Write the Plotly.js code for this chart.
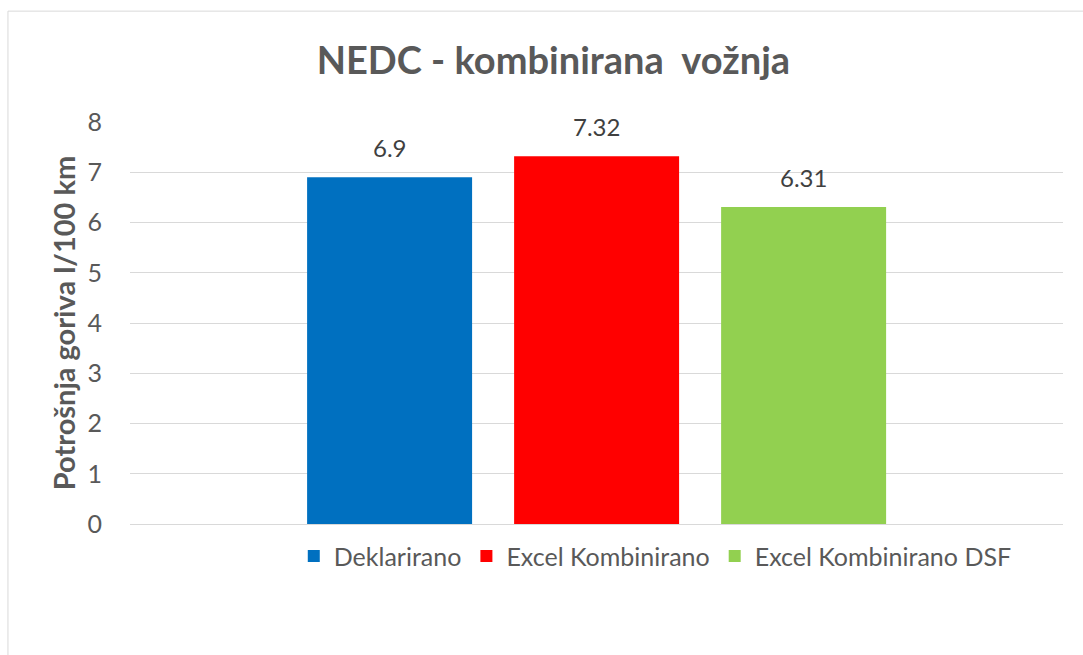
<!DOCTYPE html>
<html>
<head>
<meta charset="utf-8">
<script src="https://cdn.plot.ly/plotly-3.0.1.min.js"></script>
<style>html,body{margin:0;padding:0;background:#fff;}#chart{width:1083px;height:655px;}</style>
</head>
<body>
<div id="chart"></div>
<script>
const seriesNames = ["Deklarirano", "Excel Kombinirano", "Excel Kombinirano DSF"];
const seriesValues = [6.9, 7.32, 6.31];
const seriesColors = ["#0070C0", "#FF0000", "#92D050"];
const labelText = ["6.9", "7.32", "6.31"];
const yTicks = [0, 1, 2, 3, 4, 5, 6, 7, 8];

const FONT = "Lato, 'Open Sans', sans-serif";
const traces = seriesNames.map((name, i) => ({
  type: "bar",
  name: name,
  x: [name],
  y: [seriesValues[i]],
  marker: {color: seriesColors[i]},
  hoverinfo: "none"
}));

const annotations = seriesNames.map((name, i) => ({
  x: name, y: seriesValues[i], xref: "x", yref: "y",
  text: labelText[i], showarrow: false, yanchor: "bottom", yshift: 13,
  font: {family: FONT, size: 24, color: "#404040"}
}));

const layout = {
  width: 1083, height: 655,
  margin: {l: 130, r: 20, t: 122, b: 130.5},
  paper_bgcolor: "#fff", plot_bgcolor: "#fff",
  barmode: "overlay",
  bargap: 0.203,
  showlegend: true,
  title: {text: "NEDC - kombinirana  vožnja", x: 0.511, xanchor: "center", y: 0.908, yanchor: "middle",
          font: {family: FONT, size: 38, color: "#595959", weight: "bold"}},
  xaxis: {type: "category", range: [-1.254, 3.253], showticklabels: false, showgrid: false,
          zeroline: false, showline: false, ticks: "", fixedrange: true},
  yaxis: {range: [0, 8], tickvals: yTicks, ticktext: yTicks.map(String), showgrid: true,
          gridcolor: "#d9d9d9", gridwidth: 1, zeroline: true, zerolinecolor: "#d9d9d9", zerolinewidth: 1,
          showline: false, ticks: "outside", ticklen: 22, tickcolor: "rgba(0,0,0,0)",
          tickfont: {family: FONT, size: 25, color: "#595959"},
          title: {text: "Potrošnja goriva l/100 km", standoff: 3,
                  font: {family: FONT, size: 29, color: "#595959", weight: "bold"}}},
  legend: {orientation: "h", x: 0.563, xanchor: "center", y: -0.08, yanchor: "middle",
           font: {family: FONT, size: 25, color: "#595959"}, traceorder: "normal"},
  annotations: annotations,
  shapes: [{type: "rect", xref: "paper", yref: "paper", x0: -0.1308, x1: 1.03, y0: -0.34, y1: 1.2758,
            line: {color: "#d9d9d9", width: 1}, fillcolor: "rgba(0,0,0,0)", layer: "below"}]
};

Plotly.newPlot("chart", traces, layout, {displayModeBar: false, staticPlot: true});
</script>
</body>
</html>
